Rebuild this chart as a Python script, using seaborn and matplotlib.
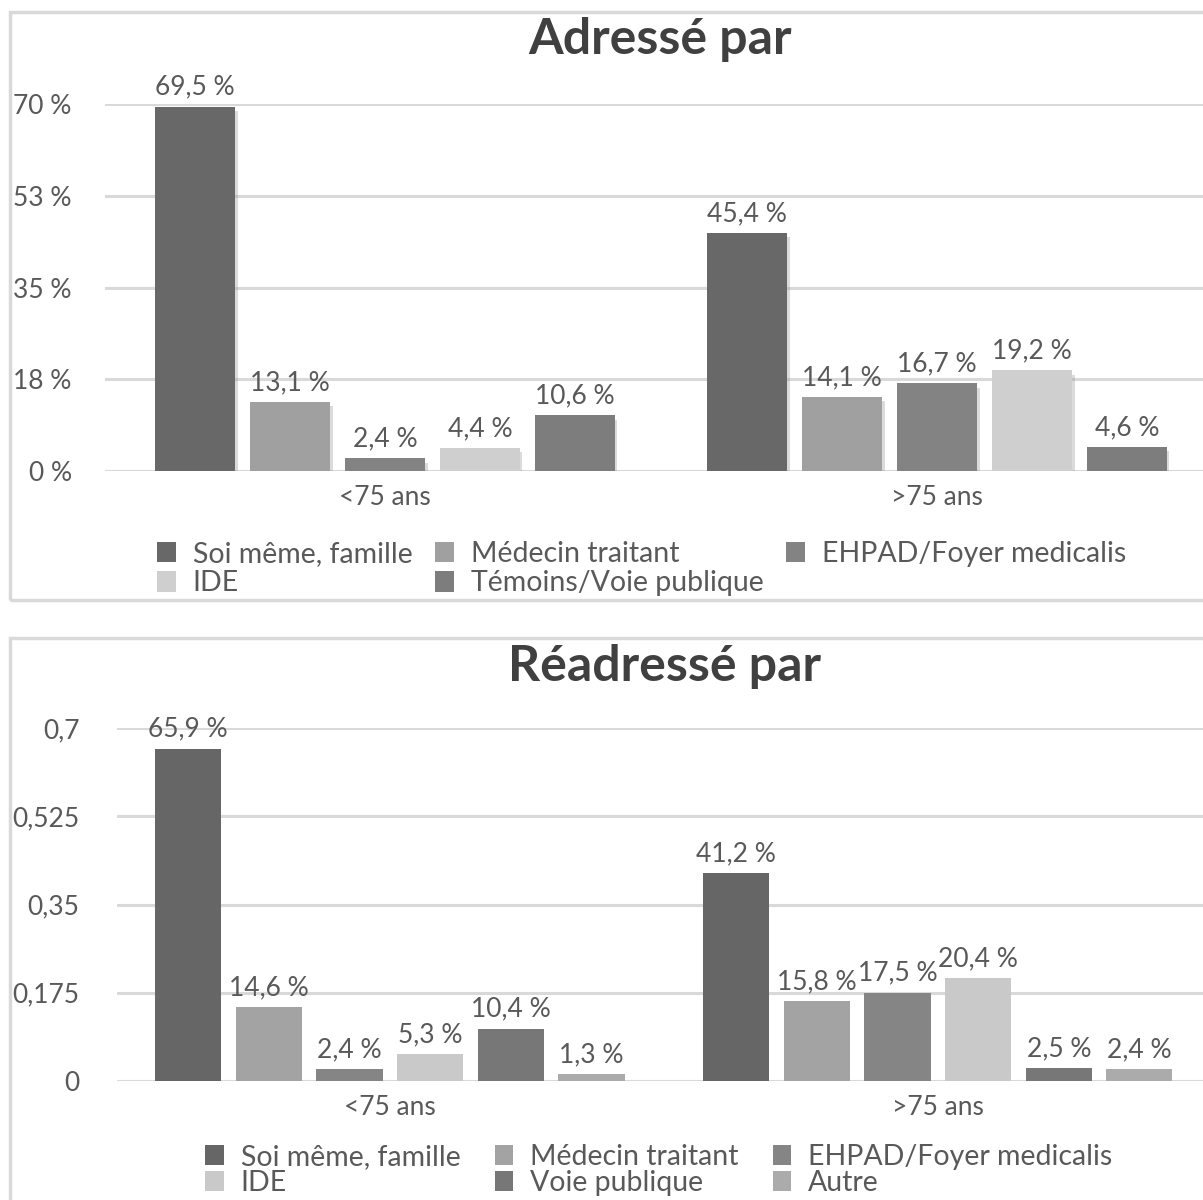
import matplotlib
matplotlib.use("Agg")
import matplotlib.pyplot as plt
import matplotlib.patheffects as pe
from matplotlib.patches import Patch, Rectangle
import pandas as pd
import seaborn as sns

# --- data -------------------------------------------------------------
age_groups = ["<75 ans", ">75 ans"]

top_title = "Adressé par"
top_sources = ["Soi même, famille", "Médecin traitant", "EHPAD/Foyer medicalis",
               "IDE", "Témoins/Voie publique"]
top_young = [69.5, 13.1, 2.4, 4.4, 10.6]
top_old = [45.4, 14.1, 16.7, 19.2, 4.6]
top_ticks = [0, 17.5, 35, 52.5, 70]
top_ticklabels = ["0 %", "18 %", "35 %", "53 %", "70 %"]
top_colors = ["#686868", "#a0a0a0", "#838383", "#cfcfcf", "#7d7d7d"]

bot_title = "Réadressé par"
bot_sources = ["Soi même, famille", "Médecin traitant", "EHPAD/Foyer medicalis",
               "IDE", "Voie publique", "Autre"]
bot_young = [0.659, 0.146, 0.024, 0.053, 0.104, 0.013]
bot_old = [0.412, 0.158, 0.175, 0.204, 0.025, 0.024]
bot_ticks = [0, 0.175, 0.35, 0.525, 0.7]
bot_ticklabels = ["0", "0,175", "0,35", "0,525", "0,7"]
bot_colors = ["#666666", "#a3a3a3", "#858585", "#c9c9c9", "#777777", "#ababab"]

# --- style ------------------------------------------------------------
sns.set_theme(style="white")
plt.rcParams["font.family"] = ["Lato", "DejaVu Sans"]
TXT = "#595959"
GRID = "#d9d9d9"
FS = 19
LEG_FS = 20.5

W, H = 1203, 1200
fig = plt.figure(figsize=(W / 100, H / 100), dpi=100)
fig.patch.set_facecolor("white")


def px_rect(x0, y0, x1, y1):
    """Figure-fraction rectangle from pixel coordinates (origin top-left)."""
    return [x0 / W, 1 - y1 / H, (x1 - x0) / W, (y1 - y0) / H]


def long_table(sources, young, old):
    rows = []
    for s, a, b in zip(sources, young, old):
        rows.append({"age": age_groups[0], "source": s, "value": a})
        rows.append({"age": age_groups[1], "source": s, "value": b})
    return pd.DataFrame(rows)


def draw_panel(ax, df, sources, colors, ticks, ticklabels, ylim, xlim,
               width, gap, scale, ypad, shadow):
    sns.barplot(data=df, x="age", y="value", hue="source", hue_order=sources,
                order=age_groups, palette=colors, width=width, gap=gap,
                ax=ax, legend=False, saturation=1, linewidth=0)
    ax.set_xlim(*xlim)
    ax.set_ylim(*ylim)
    ax.set_yticks(ticks)
    ax.set_yticklabels(ticklabels, color=TXT, fontsize=FS)
    ax.tick_params(axis="y", length=0, pad=ypad)
    ax.tick_params(axis="x", length=0, pad=10, labelsize=FS, labelcolor=TXT)
    ax.set_xlabel("")
    ax.set_ylabel("")
    for s in ax.spines.values():
        s.set_visible(False)
    ax.yaxis.grid(True, color=GRID, linewidth=2.2)
    ax.set_axisbelow(True)
    ax.set_facecolor("none")
    for cont in ax.containers:
        labels = [f"{v * scale:.1f}".replace(".", ",") + " %" for v in cont.datavalues]
        ax.bar_label(cont, labels=labels, padding=5, color=TXT, fontsize=FS)
        if shadow:
            for bar in cont:
                bar.set_path_effects([pe.SimplePatchShadow(offset=(2, -3),
                                                           shadow_rgbFace="#999999",
                                                           alpha=0.35),
                                      pe.Normal()])


# --- panel frames -----------------------------------------------------
for (x0, y0, x1, y1) in [(10, 12, 1215, 600), (10, 638, 1215, 1215)]:
    r = px_rect(x0, y0, x1, y1)
    fig.patches.append(Rectangle((r[0], r[1]), r[2], r[3], transform=fig.transFigure,
                                 fill=False, edgecolor=GRID, linewidth=2.5))

legend_kw = dict(ncol=3, loc="upper left", frameon=False, fontsize=LEG_FS,
                 labelcolor=TXT, handlelength=0.65, handleheight=0.75,
                 handletextpad=0.6, borderaxespad=0, borderpad=0)

# --- top panel --------------------------------------------------------
ax1 = fig.add_axes(px_rect(105, 104, 1203, 471))
draw_panel(ax1, long_table(top_sources, top_young, top_old), top_sources,
           top_colors, top_ticks, top_ticklabels, (0, 70), (-0.507, 1.482),
           0.86, 0.16, 1, 24, True)
fig.text(660 / W, 1 - 40 / H, top_title, ha="center", va="center",
         fontsize=36, fontweight="bold", color="#404040")

h1 = [Patch(facecolor=c, edgecolor="none") for c in top_colors]
order1 = [0, 3, 1, 4, 2]
fig.legend([h1[i] for i in order1], [top_sources[i] for i in order1],
           bbox_to_anchor=(157 / W, 1 - 541 / H), columnspacing=0.8,
           labelspacing=0.12, **legend_kw)

# --- bottom panel -----------------------------------------------------
ax2 = fig.add_axes(px_rect(117, 728, 1203, 1081))
draw_panel(ax2, long_table(bot_sources, bot_young, bot_old), bot_sources,
           bot_colors, bot_ticks, bot_ticklabels, (0, 0.7), (-0.498, 1.484),
           0.883, 0.18, 100, 27, False)
fig.text(664 / W, 1 - 666 / H, bot_title, ha="center", va="center",
         fontsize=36, fontweight="bold", color="#404040")

h2 = [Patch(facecolor=c, edgecolor="none") for c in bot_colors]
order2 = [0, 3, 1, 4, 2, 5]
fig.legend([h2[i] for i in order2], [bot_sources[i] for i in order2],
           bbox_to_anchor=(205 / W, 1 - 1144 / H), columnspacing=1.2,
           labelspacing=0.0, **legend_kw)

fig.savefig("out.png", dpi=100, facecolor="white")
